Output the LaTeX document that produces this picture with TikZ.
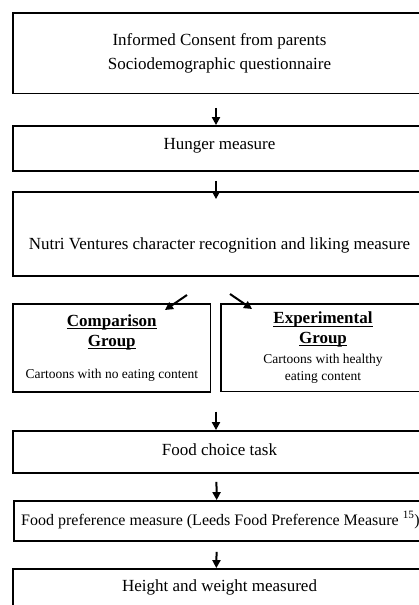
\documentclass[tikz,border=0pt]{standalone}
\usepackage{fontspec}
\setmainfont{Liberation Serif}
\usetikzlibrary{arrows.meta}

\newcommand{\grouptitle}[1]{\underline{\raisebox{0pt}[\height][0.5pt]{\textbf{#1}}}}

\begin{document}
\begin{tikzpicture}[x=1pt, y=-1pt, font=\fontsize{17}{24.3}\selectfont,
    box/.style={rectangle, draw, line width=1.8pt, align=center, inner sep=0pt},
    arr/.style={line width=2pt, -{Triangle[length=8pt, width=8pt]}},
    varr/.style={arr, transform canvas={xshift=-3.5pt}},
    small/.style={font=\fontsize{13.5}{17}\selectfont}]
    \clip (0,0) rectangle (419,605);
    % --- main column ---
    \node[box, minimum width=413pt, minimum height=80.5pt] (consent) at (219.5,53.25)
      {Informed Consent from parents\\Sociodemographic questionnaire};
    \node[box, minimum width=413pt, minimum height=45pt, text height=7pt, text depth=6pt] (hunger) at (219.5,148.5)
      {Hunger measure};
    \node[box, minimum width=413pt, minimum height=84pt, text height=30pt, text depth=0pt] (nutri) at (219.5,234)
      {Nutri Ventures character recognition and liking measure};
    % --- the two groups ---
    \node[box, minimum width=197.5pt, minimum height=88pt] (compar) at (111.75,348)
      {\grouptitle{Comparison}\\[-4.6pt]\grouptitle{Group}\\[7.3pt]{\fontsize{13.5}{17}\selectfont Cartoons with no eating content}};
    \node[box, minimum width=204pt, minimum height=87.5pt] (exper) at (323,347.75)
      {\grouptitle{Experimental}\\[-4.6pt]\grouptitle{Group}\\[-4.3pt]{\fontsize{13.5}{17}\selectfont Cartoons with healthy}\\[-7.6pt]{\fontsize{13.5}{17}\selectfont eating content}};
    % --- after viewing ---
    \node[box, minimum width=413pt, minimum height=42pt, text height=9pt, text depth=3pt] (choice) at (219.5,452)
      {Food choice task};
    \node[box, minimum width=413pt, minimum height=40pt, text height=9pt, text depth=1pt,
      font=\fontsize{16}{20}\selectfont] (pref) at (220.5,521)
      {Food preference measure (Leeds Food Preference Measure \textsuperscript{15})};
    \node[box, minimum width=413pt, minimum height=44pt, text height=7pt, text depth=6pt] (height) at (219.5,591)
      {Height and weight measured};
    % --- connectors ---
    \coordinate (forkL) at (187,295);
    \coordinate (tipL) at (165,310);
    \coordinate (forkR) at (230,294);
    \coordinate (tipR) at (252,309);
    \coordinate (merge) at (219.5,411.5);
    \draw[varr, shorten <=13.5pt] (consent) -- (hunger);
    \draw[varr, shorten <=9pt, shorten >=-8pt] (hunger) -- (nutri);
    \draw[arr] (forkL) -- (tipL);
    \draw[arr] (forkR) -- (tipR);
    \draw[varr] (merge) -- (choice);
    \draw[varr, shorten <=8pt] (choice) -- (pref);
    \draw[varr, shorten <=10pt] (pref) -- (height);
\end{tikzpicture}
\end{document}
